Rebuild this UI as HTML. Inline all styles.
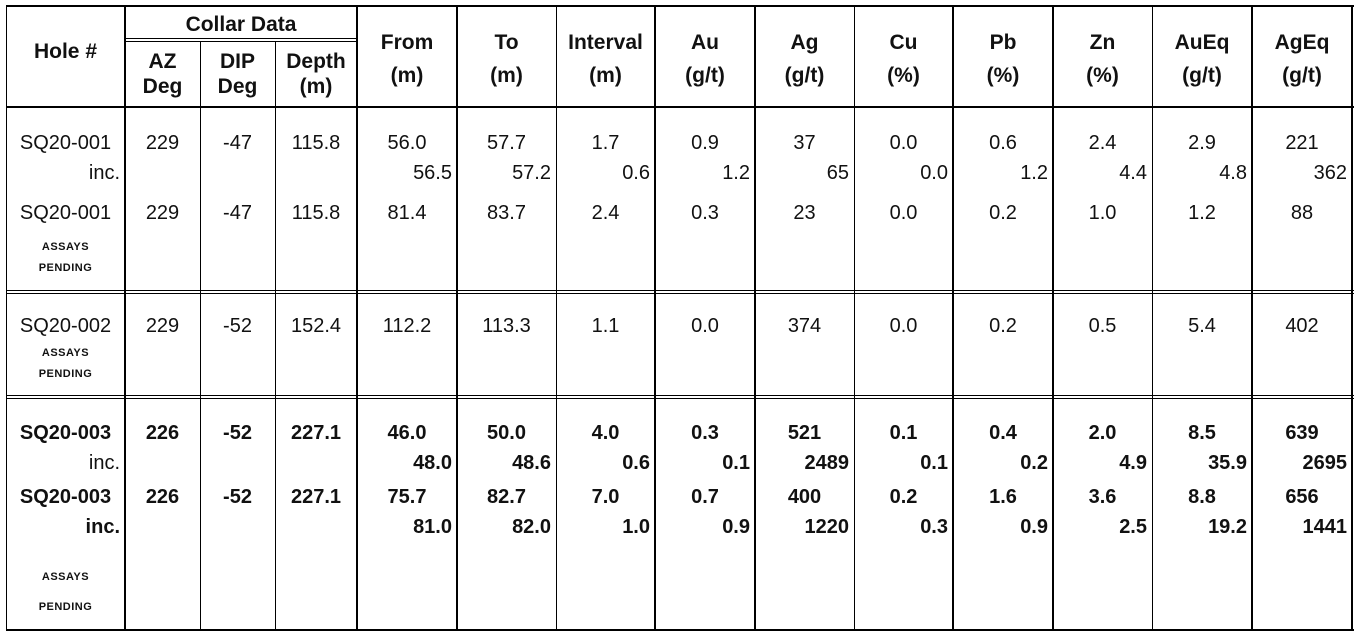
<!DOCTYPE html>
<html><head><meta charset="utf-8"><style>
body{margin:0;width:1360px;height:637px;background:#fff;position:relative;overflow:hidden;font-family:"Liberation Sans",sans-serif;color:#111}
.h{position:absolute;background:#000}
.r{position:absolute;left:6px;display:flex;height:24px;line-height:24px;font-size:20px;white-space:nowrap}
.r div{box-sizing:border-box;text-align:center;overflow:visible}
.r .R{text-align:right;padding-right:5px}
.b{font-weight:bold}
.hd{font-weight:bold;font-size:21px}
.sm{font-size:11px;font-weight:bold;letter-spacing:0.5px}
.c1{width:119px}.c2{width:75px}.c3{width:75px}.c4{width:82px}.c5{width:100px}.c6{width:99px}.c7{width:99px}.c8{width:100px}.c9{width:99px}.c10{width:99px}.c11{width:100px}.c12{width:99px}.c13{width:100px}.c14{width:100px}
</style></head><body>
<div class="h" style="left:6px;top:5px;width:1348px;height:2px"></div>
<div class="h" style="left:125px;top:38px;width:232px;height:1px"></div>
<div class="h" style="left:125px;top:41px;width:232px;height:1px"></div>
<div class="h" style="left:6px;top:106px;width:1348px;height:2px"></div>
<div class="h" style="left:6px;top:290px;width:1348px;height:1px"></div>
<div class="h" style="left:6px;top:293px;width:1348px;height:1px"></div>
<div class="h" style="left:6px;top:395px;width:1348px;height:1px"></div>
<div class="h" style="left:6px;top:398px;width:1348px;height:1px"></div>
<div class="h" style="left:6px;top:629px;width:1348px;height:2px"></div>
<div class="h" style="left:6px;top:5px;width:1px;height:626px"></div>
<div class="h" style="left:124px;top:5px;width:2px;height:626px"></div>
<div class="h" style="left:200px;top:41px;width:1px;height:590px"></div>
<div class="h" style="left:275px;top:41px;width:1px;height:590px"></div>
<div class="h" style="left:356px;top:5px;width:2px;height:626px"></div>
<div class="h" style="left:456px;top:5px;width:2px;height:626px"></div>
<div class="h" style="left:556px;top:5px;width:1px;height:626px"></div>
<div class="h" style="left:654px;top:5px;width:2px;height:626px"></div>
<div class="h" style="left:754px;top:5px;width:2px;height:626px"></div>
<div class="h" style="left:854px;top:5px;width:1px;height:626px"></div>
<div class="h" style="left:952px;top:5px;width:2px;height:626px"></div>
<div class="h" style="left:1052px;top:5px;width:2px;height:626px"></div>
<div class="h" style="left:1152px;top:5px;width:1px;height:626px"></div>
<div class="h" style="left:1251px;top:5px;width:2px;height:626px"></div>
<div class="h" style="left:1351px;top:5px;width:2px;height:626px"></div>

<div class="r hd" style="top:13px"><div class="c1"></div><div style="width:232px">Collar Data</div></div>
<div class="r hd" style="top:40px"><div class="c1">Hole #</div></div>
<div class="r hd" style="top:31px"><div class="c1"></div><div class="c2"></div><div class="c3"></div><div class="c4"></div><div class="c5">From</div><div class="c6">To</div><div class="c7">Interval</div><div class="c8">Au</div><div class="c9">Ag</div><div class="c10">Cu</div><div class="c11">Pb</div><div class="c12">Zn</div><div class="c13">AuEq</div><div class="c14">AgEq</div></div>
<div class="r hd" style="top:50px"><div class="c1"></div><div class="c2">AZ</div><div class="c3">DIP</div><div class="c4">Depth</div></div>
<div class="r hd" style="top:64px"><div class="c1"></div><div class="c2"></div><div class="c3"></div><div class="c4"></div><div class="c5">(m)</div><div class="c6">(m)</div><div class="c7">(m)</div><div class="c8">(g/t)</div><div class="c9">(g/t)</div><div class="c10">(%)</div><div class="c11">(%)</div><div class="c12">(%)</div><div class="c13">(g/t)</div><div class="c14">(g/t)</div></div>
<div class="r hd" style="top:75px"><div class="c1"></div><div class="c2">Deg</div><div class="c3">Deg</div><div class="c4">(m)</div></div>

<div class="r" style="top:131px"><div class="c1">SQ20-001</div><div class="c2">229</div><div class="c3">-47</div><div class="c4">115.8</div><div class="c5">56.0</div><div class="c6">57.7</div><div class="c7">1.7</div><div class="c8">0.9</div><div class="c9">37</div><div class="c10">0.0</div><div class="c11">0.6</div><div class="c12">2.4</div><div class="c13">2.9</div><div class="c14">221</div></div>
<div class="r" style="top:161px"><div class="c1 R">inc.</div><div class="c2"></div><div class="c3"></div><div class="c4"></div><div class="c5 R">56.5</div><div class="c6 R">57.2</div><div class="c7 R">0.6</div><div class="c8 R">1.2</div><div class="c9 R">65</div><div class="c10 R">0.0</div><div class="c11 R">1.2</div><div class="c12 R">4.4</div><div class="c13 R">4.8</div><div class="c14 R">362</div></div>
<div class="r" style="top:201px"><div class="c1">SQ20-001</div><div class="c2">229</div><div class="c3">-47</div><div class="c4">115.8</div><div class="c5">81.4</div><div class="c6">83.7</div><div class="c7">2.4</div><div class="c8">0.3</div><div class="c9">23</div><div class="c10">0.0</div><div class="c11">0.2</div><div class="c12">1.0</div><div class="c13">1.2</div><div class="c14">88</div></div>
<div class="r sm" style="top:235px"><div class="c1">ASSAYS</div></div>
<div class="r sm" style="top:256px"><div class="c1">PENDING</div></div>

<div class="r" style="top:314px"><div class="c1">SQ20-002</div><div class="c2">229</div><div class="c3">-52</div><div class="c4">152.4</div><div class="c5">112.2</div><div class="c6">113.3</div><div class="c7">1.1</div><div class="c8">0.0</div><div class="c9">374</div><div class="c10">0.0</div><div class="c11">0.2</div><div class="c12">0.5</div><div class="c13">5.4</div><div class="c14">402</div></div>
<div class="r sm" style="top:341px"><div class="c1">ASSAYS</div></div>
<div class="r sm" style="top:362px"><div class="c1">PENDING</div></div>

<div class="r b" style="top:421px"><div class="c1">SQ20-003</div><div class="c2">226</div><div class="c3">-52</div><div class="c4">227.1</div><div class="c5">46.0</div><div class="c6">50.0</div><div class="c7">4.0</div><div class="c8">0.3</div><div class="c9">521</div><div class="c10">0.1</div><div class="c11">0.4</div><div class="c12">2.0</div><div class="c13">8.5</div><div class="c14">639</div></div>
<div class="r b" style="top:451px"><div class="c1 R" style="font-weight:normal">inc.</div><div class="c2"></div><div class="c3"></div><div class="c4"></div><div class="c5 R">48.0</div><div class="c6 R">48.6</div><div class="c7 R">0.6</div><div class="c8 R">0.1</div><div class="c9 R">2489</div><div class="c10 R">0.1</div><div class="c11 R">0.2</div><div class="c12 R">4.9</div><div class="c13 R">35.9</div><div class="c14 R">2695</div></div>
<div class="r b" style="top:485px"><div class="c1">SQ20-003</div><div class="c2">226</div><div class="c3">-52</div><div class="c4">227.1</div><div class="c5">75.7</div><div class="c6">82.7</div><div class="c7">7.0</div><div class="c8">0.7</div><div class="c9">400</div><div class="c10">0.2</div><div class="c11">1.6</div><div class="c12">3.6</div><div class="c13">8.8</div><div class="c14">656</div></div>
<div class="r b" style="top:515px"><div class="c1 R">inc.</div><div class="c2"></div><div class="c3"></div><div class="c4"></div><div class="c5 R">81.0</div><div class="c6 R">82.0</div><div class="c7 R">1.0</div><div class="c8 R">0.9</div><div class="c9 R">1220</div><div class="c10 R">0.3</div><div class="c11 R">0.9</div><div class="c12 R">2.5</div><div class="c13 R">19.2</div><div class="c14 R">1441</div></div>
<div class="r sm" style="top:565px"><div class="c1">ASSAYS</div></div>
<div class="r sm" style="top:595px"><div class="c1">PENDING</div></div>
</body></html>
